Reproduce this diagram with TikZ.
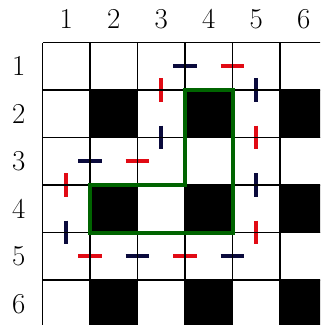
\documentclass[tikz,border=0pt]{standalone}
\definecolor{darknavy}{RGB}{10,10,60}
\definecolor{dashred}{RGB}{225,10,20}
\definecolor{pathgreen}{RGB}{0,100,0}
\tikzset{
  redbar/.style={dashred, line width=2.4pt},
  navybar/.style={darknavy, line width=2.4pt},
  cellgrid/.style={line width=1pt},
  numlabel/.style={font=\LARGE},
}
\begin{document}
\begin{tikzpicture}
\useasboundingbox (-0.895,0.895) rectangle (5.842,-5.947);
\clip (-0.895,0.895) rectangle (5.842,-5.947);
% black squares
\foreach \i in {2,4,6}
  \foreach \j in {2,4,6}
    \fill (\j-1,-\i+1) rectangle (\j,-\i);
% horizontal marks
\foreach \x/\y in {3/0.5, 1/2.5, 2/4.5, 4/4.5}
  \draw[navybar] (\x-0.25,-\y) -- (\x+0.25,-\y);
\foreach \x/\y in {4/0.5, 2/2.5, 1/4.5, 3/4.5}
  \draw[redbar] (\x-0.25,-\y) -- (\x+0.25,-\y);
% vertical marks
\foreach \x/\y in {4.5/1, 2.5/2, 4.5/3, 0.5/4}
  \draw[navybar] (\x,-\y+0.25) -- (\x,-\y-0.25);
\foreach \x/\y in {2.5/1, 4.5/2, 4.5/4, 0.5/3}
  \draw[redbar] (\x,-\y+0.25) -- (\x,-\y-0.25);
\draw[cellgrid] (0,-6) grid (6,0);
% numbers
\foreach \n in {1,...,6}{
  \node[numlabel] (col\n) at (\n-0.5,0.5) {\n};
  \node[numlabel] (row\n) at (-0.5,-\n+0.5) {\n};
}
\draw[pathgreen, line width=2.4pt] (3,-1) -- (4,-1) -- (4,-4)
      -- (1,-4) -- (1,-3) -- (3,-3) -- cycle;
\end{tikzpicture}
\end{document}
